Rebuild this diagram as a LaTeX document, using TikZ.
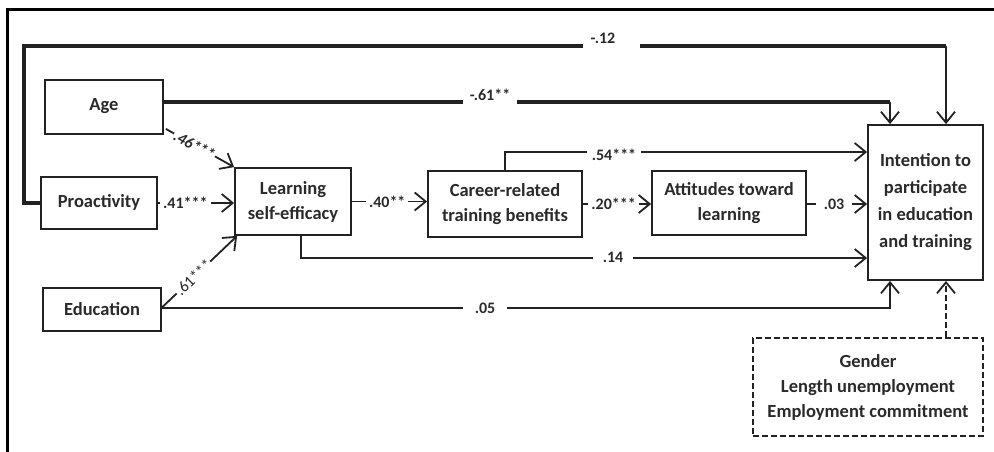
\documentclass[tikz,border=0pt]{standalone}
\usepackage{fontspec}
\setmainfont{Carlito}
\usetikzlibrary{arrows.meta,calc}
\definecolor{linec}{HTML}{222222}
\definecolor{txt}{HTML}{2A2A2A}
\begin{document}
\begin{tikzpicture}[x=1pt,y=-1pt,
  box/.style={draw=linec,line width=1.8pt,inner sep=2pt,align=center,text=txt,
    font=\bfseries\fontsize{18.5}{25}\selectfont},
  ctrlbox/.style={box,dashed,dash pattern=on 6pt off 3pt},
  conn/.style={draw=linec,line width=1.8pt,-{Straight Barb[length=11pt,width=18pt,line width=1.8pt]}},
  thickline/.style={draw=linec,line width=3.8pt},
  lab/.style={text=txt,font=\bfseries\fontsize{16}{18}\selectfont,inner sep=1pt},
  labw/.style={lab,fill=white,inner xsep=3pt},
  gap/.style={fill=white,inner sep=0pt,minimum height=10pt}]
\useasboundingbox (0,0) rectangle (994,451);
\fill[white] (0,0) rectangle (994,451);
% frame
\draw[black,line width=3pt] (7,470) -- (7,9) -- (1010,9);

% boxes
\node[box,minimum width=118pt,minimum height=54pt] (age) at (104,107) {\raisebox{5pt}{Age}};
\node[box,minimum width=116pt,minimum height=52pt] (pro) at (99,203) {\raisebox{5pt}{Proactivity}};
\node[box,minimum width=118pt,minimum height=43pt] (edu) at (102,309.5) {Education};
\node[box,minimum width=116pt,minimum height=67pt] (learn) at (293,201.5) {Learning\\self-efficacy};
\node[box,minimum width=154pt,minimum height=66pt] (career) at (505,204) {Career-related\\training benefits};
\node[box,minimum width=154pt,minimum height=64pt] (att) at (729,203) {Attitudes toward\\learning};
\node[box,minimum width=115pt,minimum height=155pt,font=\bfseries\fontsize{18.5}{27}\selectfont] (int) at (925.5,202.5) {Intention to\\participate\\in education\\and training};
\node[ctrlbox,minimum width=230pt,minimum height=98pt] (ctrl) at (868,387) {Gender\\Length unemployment\\Employment commitment};

\coordinate (kA) at (890,0);
\coordinate (kB) at (946,0);

% -.12 path
\coordinate (c12a) at (24,203);
\coordinate (c12b) at (946,46);
\draw[thickline,line join=miter] (pro.west) -- (c12a) |- (c12b);
\draw[conn] (c12b) -- (int.north -| kB);
\node[gap,minimum width=57pt] at (611,46) {};
\node[lab] at (603,38) {-.12};

% -.61 path
\coordinate (a61) at (age.east |- 0,102);
\coordinate (c61) at (890,102);
\draw[thickline] (a61) -- (c61);
\draw[conn] (c61) -- (int.north -| kA);
\node[gap,minimum width=54pt] at (490,102) {};
\node[lab] at (490,95) {-.61**};

% to learning
\draw[conn] ($(age.south east)+(2,-6)$) -- (learn.north west)
  node[pos=0.42,sloped,labw,inner xsep=1pt,font=\bfseries\itshape\fontsize{16}{18}\selectfont] {.46***};
\draw[conn] (pro.east) -- (learn.west |- pro.east)
  node[pos=0.36,labw] {.41***};
\draw[conn] ($(edu.east)+(0,-2)$) -- ($(learn.south west)+(3,0)$)
  node[pos=0.42,sloped,labw,inner xsep=1pt,font=\fontsize{16}{18}\selectfont] {.61***};

% chain
\draw[conn] (learn.east) -- (career.west |- learn.east)
  node[pos=0.47,labw] {.40**};
\draw[conn] (career.east) -- (att.west |- career.east)
  node[pos=0.45,labw] {.20***};
\draw[conn] (att.east |- 0,204) -- (int.west |- 0,204)
  node[pos=0.45,labw,inner xsep=8pt] {.03};

% .54
\draw[conn] (career.north) -- (career.north |- 0,152) -- (int.west |- 0,152);
\node[labw,inner xsep=5pt] at (614,155) {.54***};

% .14
\coordinate (l14) at ($(learn.south)+(8,0)$);
\draw[conn] (l14) -- (l14 |- 0,258) -- (int.west |- 0,258);
\node[labw,inner xsep=10pt] at (613,257) {.14};

% .05
\draw[conn] (edu.east |- 0,308) -| (int.south -| kA);
\node[labw,inner xsep=12pt] at (485,308) {.05};

% controls
\draw[conn,dash pattern=on 6pt off 3pt] (ctrl.north -| kB) -- (int.south -| kB);
\end{tikzpicture}
\end{document}
